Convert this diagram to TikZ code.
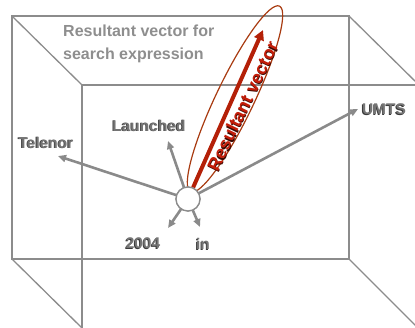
\documentclass[tikz,border=0pt]{standalone}
\usepackage{fontspec}
\setmainfont{Liberation Sans}
\usetikzlibrary{arrows.meta}
\definecolor{boxgray}{HTML}{8C8C8C}
\definecolor{arrgray}{HTML}{8A8A8A}
\definecolor{lblface}{HTML}{757575}
\definecolor{lblshadow}{HTML}{3A3A3A}
\definecolor{titlegray}{HTML}{8E8E8E}
\definecolor{resred}{HTML}{B42008}
\definecolor{restext}{HTML}{C41E0A}
\definecolor{resshadow}{HTML}{3A0800}
\definecolor{ellcol}{HTML}{A83A10}
\newcommand\embossed[2]{\rlap{\kern-0.9pt\raisebox{-0.9pt}{\color{#1}#2}}#2}
\tikzset{
  boxline/.style={draw=boxgray, line width=1.3pt},
  vecarrow/.style={draw=arrgray, line width=2.6pt, -{Triangle[length=8pt,width=7pt]}, shorten <=-0.5pt},
  lbl/.style={inner sep=0pt, text=lblface, font=\fontsize{15.5}{18}\selectfont\bfseries},
  hub/.style={circle, draw=boxgray, line width=1.3pt, fill=white, minimum size=24pt, inner sep=0pt},
}
\begin{document}
\begin{tikzpicture}[x=1pt,y=-1pt]
\useasboundingbox (0,0) rectangle (415,327);
\clip (0,0) rectangle (415,327);
% box
\draw[boxline] (12,16) rectangle (349,259);
\draw[boxline] (82,328) -- (82,85) -- (420,85);
\draw[boxline] (12,16) -- (82,85);
\draw[boxline] (349,16) -- (420,86);
\draw[boxline] (12,259) -- (82,328);
\draw[boxline] (349,259) -- (420,330);
% title
\node[inner sep=0pt, anchor=west, align=left, text=titlegray,
      font=\fontsize{16}{23}\selectfont\bfseries] (title) at (63,43.5)
  {Resultant vector for\\search expression};
% ellipse
\draw[ellcol, line width=1.2pt, rotate around={64.4:(235,99)}] (235,99) ellipse [x radius=103, y radius=19];
% hub
\node[hub] (c) at (188,199) {};
\coordinate (tTel) at (58,156);
\coordinate (tLau) at (168,141);
\coordinate (tUMTS) at (358,109);
\coordinate (t2004) at (168,228);
\coordinate (tIn) at (200,227);
\coordinate (tRes) at (263,30);
\draw[vecarrow] (c) -- (tTel);
\draw[vecarrow] (c) -- (tLau);
\draw[vecarrow] (c) -- (tUMTS);
\draw[vecarrow] (c) -- (t2004);
\draw[vecarrow] (c) -- (tIn);
\draw[resred, line width=4pt, -{Triangle[length=10pt,width=10pt]}] (c) -- (tRes);
\node[hub] at (188,199) {};
% labels
\node[lbl] (lTel) at (46,143) {\embossed{lblshadow}{Telenor}};
\node[lbl] (lLau) at (149,126) {\embossed{lblshadow}{Launched}};
\node[lbl] (lUMTS) at (384,110) {\embossed{lblshadow}{UMTS}};
\node[lbl] (l2004) at (143,244) {\embossed{lblshadow}{2004}};
\node[lbl] (lIn) at (203,244) {\embossed{lblshadow}{in}};
\node[inner sep=0pt, text=restext, rotate=64.4, font=\fontsize{18}{20}\selectfont\bfseries] (lRes) at (243,106.5) {\embossed{resshadow}{Resultant vector}};
\end{tikzpicture}
\end{document}
